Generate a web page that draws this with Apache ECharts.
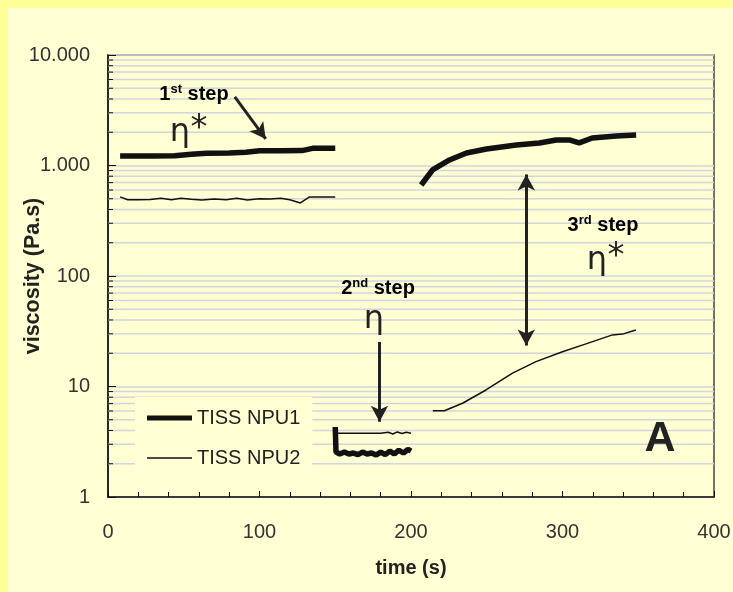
<!DOCTYPE html>
<html>
<head>
<meta charset="utf-8">
<script src="https://cdn.jsdelivr.net/npm/echarts@6/dist/echarts.min.js"></script>
<style>
html,body{margin:0;padding:0;background:#FFFFD3;}
#c{width:733px;height:592px;}
</style>
</head>
<body>
<div id="c"></div>
<script>
// ---- data (time in s, viscosity in Pa.s) ----
const npu1Step1T = [8, 20, 30, 44, 55, 65, 80, 91, 100, 115, 128, 135, 150];
const npu1Step1V = [1220, 1220, 1220, 1225, 1265, 1290, 1300, 1320, 1360, 1360, 1365, 1430, 1430];
const npu1Step2T = [150, 150.5, 153, 156, 159, 162, 165, 168, 171, 174, 177, 180, 183, 186, 189, 192, 195, 198, 200];
const npu1Step2V = [4.3, 2.55, 2.45, 2.55, 2.45, 2.5, 2.42, 2.55, 2.45, 2.5, 2.4, 2.55, 2.42, 2.6, 2.45, 2.65, 2.5, 2.7, 2.6];
const npu1Step3T = [206.7, 214.2, 225.4, 236.6, 249.8, 269.5, 284.7, 295.9, 305, 311, 319.6, 335.4, 348.6];
const npu1Step3V = [666, 911, 1122, 1298, 1410, 1534, 1600, 1702, 1700, 1600, 1773, 1850, 1889];

const npu2Step1T = [8, 13, 20, 28, 35, 42, 48, 55, 62, 70, 78, 85, 92, 100, 107, 114, 120, 127, 133, 150];
const npu2Step1V = [520, 490, 490, 492, 505, 490, 505, 495, 488, 497, 490, 505, 488, 500, 497, 505, 490, 458, 520, 520];
const npu2Step2T = [150, 160, 170, 180, 185, 188, 191, 194, 197, 200];
const npu2Step2V = [3.77, 3.77, 3.77, 3.77, 3.85, 3.72, 3.88, 3.75, 3.85, 3.78];
const npu2Step3T = [214.4, 222, 234, 249.5, 267, 282.5, 300, 315.5, 333, 339.6, 348.4];
const npu2Step3V = [6.04, 6.04, 7.05, 9.3, 13.2, 16.8, 20.6, 24.3, 29.3, 29.8, 32.5];

const xTicks = [0, 100, 200, 300, 400];
const yTickLabels = {1: '1', 10: '10', 100: '100', 1000: '1.000', 10000: '10.000'};
const minorGridVals = [];
[1, 10, 100, 1000].forEach(d => { for (let k = 2; k <= 9; k++) minorGridVals.push(k * d); });

function seg(tArr, vArr) { return tArr.map((t, i) => [t, vArr[i]]); }
function join(...segs) {
  const out = [];
  segs.forEach((s, i) => { if (i > 0) out.push([s[0][0], '-']); out.push(...s); });
  return out;
}
const npu1Data = join(seg(npu1Step1T, npu1Step1V), seg(npu1Step2T, npu1Step2V), seg(npu1Step3T, npu1Step3V));
const npu2Data = join(seg(npu2Step1T, npu2Step1V), seg(npu2Step2T, npu2Step2V), seg(npu2Step3T, npu2Step3V));

// annotation arrows (data coordinates)
const arrow1 = [[83.7, 4170], [104.1, 1738]];
const arrow2 = [[179.2, 25.3], [179.2, 4.8]];
const arrow3 = [[276.1, 830], [276.1, 23.5]];

const FONT = 'Liberation Sans, Arial, sans-serif';
const BG = '#FFFFD3';
const ink = '#222';

const chart = echarts.init(document.getElementById('c'), null, {renderer: 'canvas'});
const supRich = {
  n: {fontFamily: FONT, fontSize: 20, fontWeight: 'bold', color: ink, lineHeight: 22},
  s: {fontFamily: FONT, fontSize: 13, fontWeight: 'bold', color: ink, verticalAlign: 'top', lineHeight: 13}
};
function stepTxt(x, y, text) {
  return {type: 'text', x: x, y: y, z: 100, style: {text: text, rich: supRich, align: 'center', verticalAlign: 'middle'}};
}
function eta(x, y) {
  return {type: 'text', x: x, y: y, z: 100, style: {text: 'η', fontFamily: 'DejaVu Sans, sans-serif', fontSize: 32, fill: ink, align: 'center', verticalAlign: 'middle'}};
}
function star(x, y) {
  return {type: 'text', x: x, y: y, z: 100, style: {text: '*', fontFamily: 'DejaVu Sans, sans-serif', fontSize: 34, fill: ink, align: 'center', verticalAlign: 'middle'}};
}

chart.setOption({
  animation: false,
  backgroundColor: BG,
  grid: {left: 108, right: 19, top: 55, bottom: 95, outerBoundsMode: 'none', containLabel: false,
    show: true, backgroundColor: BG, borderColor: '#444', borderWidth: 1.5},
  legend: [
    {
      orient: 'vertical', left: 135, top: 397, icon: 'rect',
      padding: [11, 12, 44, 12], itemWidth: 45, itemHeight: 5,
      backgroundColor: BG,
      textStyle: {fontFamily: FONT, fontSize: 20, color: ink},
      data: ['TISS NPU1']
    },
    {
      orient: 'vertical', left: 147, top: 448, icon: 'rect',
      padding: 0, itemWidth: 45, itemHeight: 1.5,
      textStyle: {fontFamily: FONT, fontSize: 20, color: ink},
      data: ['TISS NPU2']
    }
  ],
  xAxis: {
    type: 'value', min: 0, max: 400, interval: 100,
    name: 'time (s)', nameLocation: 'middle', nameGap: 61, nameMoveOverlap: false,
    nameTextStyle: {fontFamily: FONT, fontSize: 20, fontWeight: 'bold', color: ink},
    axisLine: {show: true, lineStyle: {color: '#111', width: 1.5}},
    axisTick: {show: true, inside: true, length: 6, lineStyle: {color: '#111'}},
    minorTick: {show: true, splitNumber: 5, length: 5, lineStyle: {color: '#111'}},
    splitLine: {show: false},
    axisLabel: {fontFamily: FONT, fontSize: 20, color: '#333', margin: 25,
      formatter: v => xTicks.includes(v) ? String(v) : ''}
  },
  yAxis: {
    type: 'log', logBase: 10, min: 1, max: 10000,
    name: 'viscosity (Pa.s)', nameLocation: 'middle', nameGap: 64, nameMoveOverlap: false,
    nameTextStyle: {fontFamily: FONT, fontSize: 21.5, fontWeight: 'bold', color: ink},
    axisLine: {show: true, lineStyle: {color: '#111', width: 1.5}},
    axisTick: {show: true, inside: true, length: 8, lineStyle: {color: '#111'}},
    splitLine: {show: true, lineStyle: {color: '#d2d5dd', width: 1.5}},
    axisLabel: {fontFamily: FONT, fontSize: 20, color: '#333', margin: 18,
      formatter: v => yTickLabels[Math.round(v)] || ''}
  },
  series: [
    {
      type: 'custom', name: 'grid', silent: true, z: 1,
      data: minorGridVals.map(v => [0, v]),
      renderItem: function (params, api) {
        const v = api.value(1);
        const p1 = api.coord([0, v]);
        const p2 = api.coord([400, v]);
        return {type: 'group', children: [
          {type: 'line', shape: {x1: p1[0], y1: p1[1], x2: p2[0], y2: p2[1]}, style: {stroke: '#d2d5dd', lineWidth: 1.5}},
          {type: 'line', shape: {x1: p1[0], y1: p1[1], x2: p1[0] + 5, y2: p1[1]}, style: {stroke: '#111', lineWidth: 1}}
        ]};
      }
    },
    {
      type: 'line', name: 'TISS NPU1', data: npu1Data, showSymbol: false, symbol: 'none',
      connectNulls: false, z: 3,
      lineStyle: {color: '#111', width: 5.5}, itemStyle: {color: '#111'},
      markLine: {
        silent: true, symbol: ['none', 'arrow'], symbolSize: [13, 16],
        label: {show: false},
        lineStyle: {color: ink, width: 3, type: 'solid'},
        data: [
          [{coord: arrow1[0]}, {coord: arrow1[1]}],
          [{coord: arrow2[0]}, {coord: arrow2[1]}],
          [{coord: arrow3[0], symbol: 'arrow'}, {coord: arrow3[1]}]
        ]
      }
    },
    {
      type: 'line', name: 'TISS NPU2', data: npu2Data, showSymbol: false, symbol: 'none',
      connectNulls: false, z: 3,
      lineStyle: {color: '#111', width: 1.5}, itemStyle: {color: '#111'}
    }
  ],
  graphic: [
    {type: 'rect', left: 0, top: 0, shape: {width: 8, height: 592}, style: {fill: '#FFFF99'}, z: 0},
    {type: 'rect', left: 0, top: 0, shape: {width: 733, height: 8}, style: {fill: '#FFFF99'}, z: 0},
    stepTxt(194, 94, '{n|1}{s|st}{n| step}'),
    eta(180, 133), star(199, 129),
    stepTxt(378, 288, '{n|2}{s|nd}{n| step}'),
    eta(374, 320),
    stepTxt(603, 225, '{n|3}{s|rd}{n| step}'),
    eta(597, 261), star(616, 257),
    {type: 'text', x: 660, y: 439, z: 100, style: {text: 'A', fontFamily: FONT, fontSize: 43, fontWeight: 'bold', fill: ink, align: 'center', verticalAlign: 'middle'}}
  ]
});
</script>
</body>
</html>
